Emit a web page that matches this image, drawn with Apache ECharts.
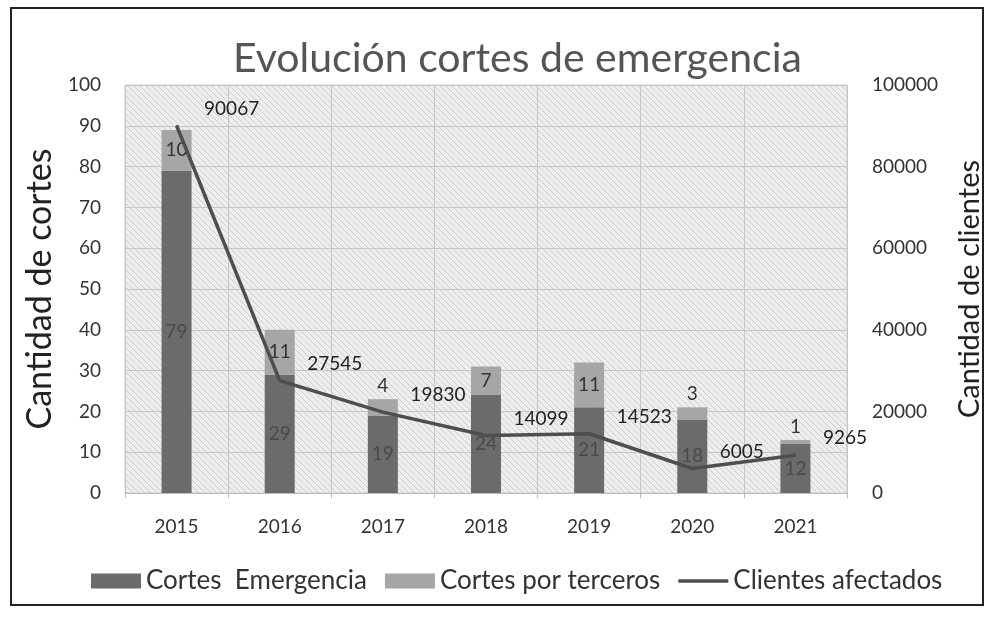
<!DOCTYPE html>
<html><head><meta charset="utf-8">
<script src="https://cdn.jsdelivr.net/npm/echarts@6/dist/echarts.min.js"></script>
<style>html,body{margin:0;padding:0;background:#fff}#c{width:990px;height:618px}</style>
</head><body><div id="c"></div>
<script>
const years = ['2015','2016','2017','2018','2019','2020','2021'];
const cortesEmergencia = [79, 29, 19, 24, 21, 18, 12];
const cortesTerceros = [10, 11, 4, 7, 11, 3, 1];
const clientesAfectados = [90067, 27545, 19830, 14099, 14523, 6005, 9265];
const leftTicks = [0, 100, 10];
const rightTicks = [0, 100000, 20000];

const pat = document.createElement('canvas');
pat.width = 6; pat.height = 6;
const pc = pat.getContext('2d');
pc.fillStyle = '#eeeeee'; pc.fillRect(0,0,6,6);
pc.strokeStyle = '#cdcdcd'; pc.lineWidth = 1;
pc.beginPath(); pc.moveTo(0,0); pc.lineTo(6,6); pc.moveTo(-3,3); pc.lineTo(3,9); pc.moveTo(3,-3); pc.lineTo(9,3); pc.stroke();

const FONT = 'Lato';
const chart = echarts.init(document.getElementById('c'));
chart.setOption({
  animation: false,
  textStyle: { fontFamily: FONT },
  title: { text: 'Evolución cortes de emergencia', left: 228, top: 33,
    textStyle: { fontFamily: FONT, fontSize: 41, fontWeight: 'normal', color: '#555' } },
  graphic: [{ type: 'rect', shape: { x: 11, y: 8, width: 972, height: 597 },
    style: { fill: 'none', stroke: '#222', lineWidth: 2 }, silent: true }],
  legend: { top: 563, left: 86, itemWidth: 50, itemHeight: 15, itemGap: 18,
    textStyle: { fontFamily: FONT, fontSize: 26, color: '#333' },
    data: [{ name: 'Cortes  Emergencia', icon: 'rect' }, { name: 'Cortes por terceros', icon: 'rect' },
           { name: 'Clientes afectados', icon: 'path://M0,0H56V4H0Z' }] },
  grid: { left: 125, right: 143, top: 85, bottom: 125, show: true, containLabel: false, outerBoundsMode: 'none',
    backgroundColor: { image: pat, repeat: 'repeat' }, borderColor: '#cfcfcf', borderWidth: 1 },
  xAxis: { type: 'category', data: years,
    axisLine: { lineStyle: { color: '#bbb' } }, axisTick: { show: true, lineStyle: { color: '#bbb' } },
    splitLine: { show: true, lineStyle: { color: '#c6c6c6' } },
    axisLabel: { fontSize: 19, color: '#333', margin: 24, fontFamily: FONT } },
  yAxis: [
    { type: 'value', min: leftTicks[0], max: leftTicks[1], interval: leftTicks[2],
      name: 'Cantidad de cortes', nameLocation: 'middle', nameGap: 48,
      nameTextStyle: { fontSize: 34, color: '#222', fontFamily: FONT },
      axisLabel: { fontSize: 19, color: '#333', margin: 24, fontFamily: FONT },
      axisLine: { show: false }, splitLine: { lineStyle: { color: '#c6c6c6' } } },
    { type: 'value', min: rightTicks[0], max: rightTicks[1], interval: rightTicks[2],
      name: 'Cantidad de clientes', nameLocation: 'middle', nameGap: 108, nameRotate: 90,
      nameTextStyle: { fontSize: 29, color: '#222', fontFamily: FONT },
      axisLabel: { fontSize: 19, color: '#333', margin: 25, fontFamily: FONT, formatter: v => String(v) },
      axisLine: { show: false }, splitLine: { show: false } }
  ],
  series: [
    { name: 'Cortes  Emergencia', type: 'bar', stack: 'c', barWidth: 30,
      itemStyle: { color: '#6b6b6b' },
      label: { show: true, position: 'inside', fontSize: 19, color: '#4a4a4a', fontFamily: FONT },
      data: cortesEmergencia },
    { name: 'Cortes por terceros', type: 'bar', stack: 'c', barWidth: 30,
      itemStyle: { color: '#a6a6a6' },
      label: { show: true, position: 'inside', fontSize: 19, color: '#333', fontFamily: FONT },
      data: cortesTerceros.map(v => v < 6 ? { value: v, label: { position: 'top', distance: 4 } } : v) },
    { name: 'Clientes afectados', type: 'line', yAxisIndex: 1, symbol: 'circle', symbolSize: 1,
      lineStyle: { color: '#4e4e4e', width: 3.5 }, itemStyle: { color: '#4e4e4e' },
      label: { show: true, position: [28, -26], fontSize: 19, color: '#222', fontFamily: FONT },
      labelLayout: { hideOverlap: false },
      data: clientesAfectados }
  ]
});
</script></body></html>
